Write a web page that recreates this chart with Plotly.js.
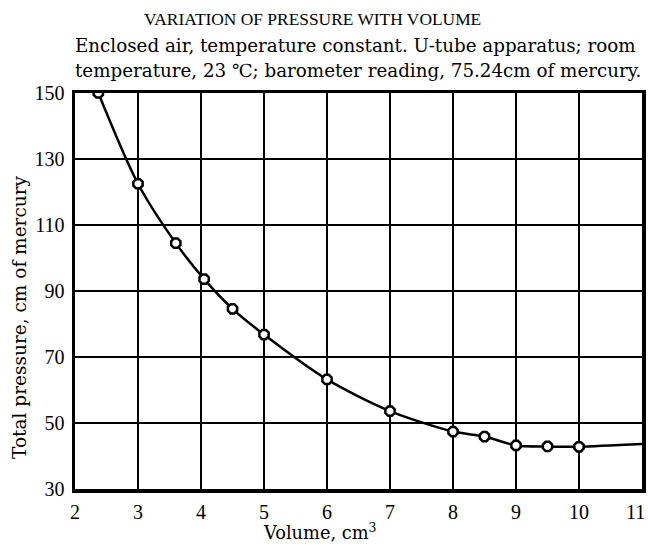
<!DOCTYPE html>
<html>
<head>
<meta charset="utf-8">
<script src="https://cdn.plot.ly/plotly-3.0.1.min.js"></script>
<style>html,body{margin:0;padding:0;background:#fff;}#chart{width:648px;height:548px;}</style>
</head>
<body>
<div id="chart"></div>
<script>
// Measured points
const volume = [2.37, 3.0, 3.6, 4.05, 4.5, 5.0, 6.0, 7.0, 8.0, 8.5, 9.0, 9.5, 10.0];
const pressure = [150.0, 122.5, 104.5, 93.6, 84.6, 76.8, 63.2, 53.6, 47.4, 45.9, 43.2, 42.9, 42.8];
// Fitted curve continues beyond the last measured point
const curveEndVolume = [11.0];
const curveEndPressure = [43.6];

const xTicks = [2, 3, 4, 5, 6, 7, 8, 9, 10, 11];
const yTicks = [30, 50, 70, 90, 110, 130, 150];

const titleText = "VARIATION OF PRESSURE WITH VOLUME";
const subtitleLine1 = "Enclosed air, temperature constant. U-tube apparatus; room";
const subtitleLine2 = "temperature, 23 \u2103; barometer reading, 75.24cm of mercury.";
const xTitle = "Volume, cm<sup>3</sup>";
const yTitle = "Total pressure, cm of mercury";

const serifWide = "DejaVu Serif";
const serifNarrow = "Liberation Serif";

// the last x label sits flush against the right edge in the original, so it is
// drawn right-aligned at its tick (still placed through the x axis scale);
// the right frame edge doubles as its grid line
const lastX = xTicks[xTicks.length - 1];
const innerXTicks = xTicks.slice(0, -1);

const curve = {
  x: volume.concat(curveEndVolume),
  y: pressure.concat(curveEndPressure),
  mode: "lines",
  line: {color: "#000", width: 2.5, shape: "spline", smoothing: 0.8},
  hoverinfo: "skip",
  showlegend: false
};
const points = {
  x: volume,
  y: pressure,
  mode: "markers",
  marker: {symbol: "octagon", size: 10, color: "#fff", line: {color: "#000", width: 2.5}},
  showlegend: false
};

const layout = {
  width: 648, height: 548,
  margin: {l: 75, r: 6, t: 93, b: 59},
  paper_bgcolor: "#fff", plot_bgcolor: "#fff",
  font: {family: serifWide, color: "#000", size: 16},
  showlegend: false,
  xaxis: {
    range: [2, 11], tickvals: innerXTicks, ticktext: innerXTicks.map(String),
    showgrid: true, gridcolor: "#000", gridwidth: 2,
    showline: true, linecolor: "#000", linewidth: 3.5, mirror: true,
    ticks: "", zeroline: false, ticklabelstandoff: 2,
    tickfont: {family: serifNarrow, size: 20}
  },
  yaxis: {
    range: [30, 150], tickvals: yTicks, ticktext: yTicks.map(String),
    showgrid: true, gridcolor: "#000", gridwidth: 2,
    showline: true, linecolor: "#000", linewidth: 3.5, mirror: true,
    ticks: "", zeroline: false, ticklabelstandoff: 3,
    tickfont: {family: serifNarrow, size: 20}
  },
  annotations: [
    {text: titleText, xref: "paper", yref: "paper", x: 0.418, y: 1.187, xanchor: "center", yanchor: "middle", showarrow: false, font: {family: serifNarrow, size: 17.4}},
    {text: subtitleLine1, xref: "paper", yref: "paper", x: -0.003, y: 1.121, xanchor: "left", yanchor: "middle", showarrow: false, font: {family: serifWide, size: 18.3}},
    {text: subtitleLine2, xref: "paper", yref: "paper", x: -0.003, y: 1.057, xanchor: "left", yanchor: "middle", showarrow: false, font: {family: serifWide, size: 18.3}},
    {text: xTitle, xref: "paper", yref: "paper", x: 0.432, y: -0.108, xanchor: "center", yanchor: "middle", showarrow: false, font: {family: serifWide, size: 17.8}},
    {text: yTitle, xref: "paper", yref: "paper", x: -0.097, y: 0.432, xanchor: "center", yanchor: "middle", textangle: -90, showarrow: false, font: {family: serifWide, size: 18.5}},
    {text: String(lastX), xref: "x", yref: "paper", x: lastX, y: -0.058, xanchor: "right", yanchor: "middle", xshift: 5, showarrow: false, font: {family: serifNarrow, size: 20}}
  ]
};

Plotly.newPlot("chart", [curve, points], layout, {displayModeBar: false, staticPlot: true});
</script>
</body>
</html>
